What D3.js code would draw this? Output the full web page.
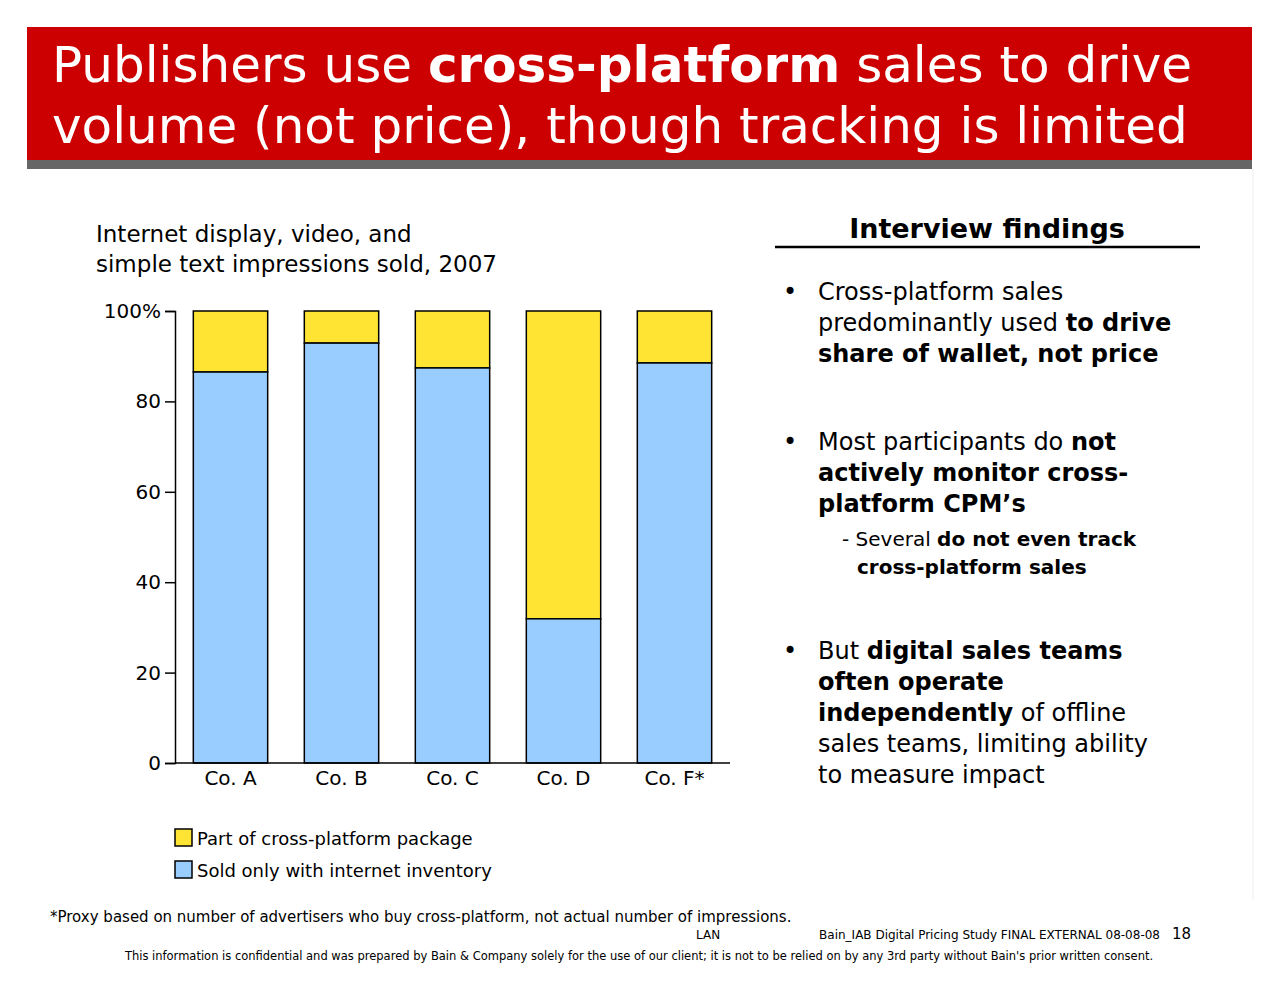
<!DOCTYPE html>
<html><head><meta charset="utf-8">
<script src="https://cdn.jsdelivr.net/npm/d3@7"></script>
<style>body{margin:0;background:#fff;font-family:"DejaVu Sans",Verdana,sans-serif}</style>
</head><body><div id="chart"></div>
<script>
// chart data
let companies = ["Co. A", "Co. B", "Co. C", "Co. D", "Co. F*"];
let internetOnly = [86.5, 92.9, 87.4, 31.9, 88.5];
let crossPlatform = internetOnly.map(v => 100 - v);
let yTicks = [0, 20, 40, 60, 80, 100];

let svg = d3.select("#chart").append("svg").attr("width", 1280).attr("height", 990);

// header
svg.append("rect").attr("x", 27).attr("y", 27).attr("width", 1225).attr("height", 134).attr("fill", "#cc0000");
svg.append("rect").attr("x", 27).attr("y", 160).attr("width", 1225).attr("height", 9).attr("fill", "#666");
let h1 = svg.append("text").attr("x", 52).attr("y", 82).attr("fill", "#fff").style("font-size", "50px");
h1.append("tspan").text("Publishers use ");
h1.append("tspan").attr("font-weight", "bold").text("cross-platform");
h1.append("tspan").text(" sales to drive");
svg.append("text").attr("x", 52).attr("y", 143).attr("fill", "#fff").style("font-size", "50px")
    .text("volume (not price), though tracking is limited");
svg.append("line").attr("x1", 1253).attr("x2", 1253).attr("y1", 169).attr("y2", 900).attr("stroke", "#eee");

// chart title
svg.append("text").attr("x", 96).attr("y", 242).style("font-size", "23px").text("Internet display, video, and");
svg.append("text").attr("x", 96).attr("y", 272).style("font-size", "23px").text("simple text impressions sold, 2007");

let x = d3.scaleBand().domain(companies).range([175, 730]).paddingInner(0.33).paddingOuter(0.165);
let y = d3.scaleLinear().domain([0, 100]).range([763, 311]);

let g = svg.append("g");
companies.forEach((c, i) => {
    g.append("rect").attr("x", x(c)).attr("width", x.bandwidth())
        .attr("y", y(100)).attr("height", y(internetOnly[i]) - y(100))
        .attr("fill", "#ffe433").attr("stroke", "#000").attr("stroke-width", 1.5);
    g.append("rect").attr("x", x(c)).attr("width", x.bandwidth())
        .attr("y", y(internetOnly[i])).attr("height", y(0) - y(internetOnly[i]))
        .attr("fill", "#99ccff").attr("stroke", "#000").attr("stroke-width", 1.5);
});

let yAxis = svg.append("g").attr("transform", "translate(175,0)")
    .call(d3.axisLeft(y).tickValues(yTicks).tickSize(10).tickPadding(4).tickFormat(d => d === 100 ? "100%" : d));
let xAxis = svg.append("g").attr("transform", "translate(0,763)")
    .call(d3.axisBottom(x).tickSize(0).tickPadding(8));
[yAxis, xAxis].forEach(a => {
    a.selectAll("text").style("font-size", "20px").style("font-family", "DejaVu Sans").attr("fill", "#000");
    a.selectAll("line,path").attr("stroke", "#000").attr("stroke-width", 1.5);
});
xAxis.select(".domain").attr("d", "M175,0H730");

// legend
let legend = [["Part of cross-platform package", "#ffe433"], ["Sold only with internet inventory", "#99ccff"]];
legend.forEach((l, i) => {
    svg.append("rect").attr("x", 175).attr("y", 829 + i * 32).attr("width", 17).attr("height", 17)
        .attr("fill", l[1]).attr("stroke", "#000").attr("stroke-width", 1.5);
    svg.append("text").attr("x", 197).attr("y", 845 + i * 32).style("font-size", "18px").text(l[0]);
});

// findings panel
svg.append("text").attr("x", 987).attr("y", 238).attr("text-anchor", "middle")
    .attr("font-weight", "bold").style("font-size", "27px").text("Interview findings");
svg.append("line").attr("x1", 775).attr("x2", 1200).attr("y1", 247).attr("y2", 247).attr("stroke", "#000").attr("stroke-width", 2.5);

let bullets = [
    [300, [[["Cross-platform sales", 0]], [["predominantly used ", 0], ["to drive", 1]], [["share of wallet, not price", 1]]]],
    [450, [[["Most participants do ", 0], ["not", 1]], [["actively monitor cross-", 1]], [["platform CPM\u2019s", 1]]]],
    [659, [[["But ", 0], ["digital sales teams", 1]], [["often operate", 1]], [["independently", 1], [" of offline", 0]], [["sales teams, limiting ability", 0]], [["to measure impact", 0]]]]
];
bullets.forEach(b => {
    svg.append("text").attr("x", 783).attr("y", b[0]).style("font-size", "24px").text("\u2022");
    b[1].forEach((line, j) => {
        let t = svg.append("text").attr("x", 818).attr("y", b[0] + j * 31).style("font-size", "24px");
        line.forEach(s => t.append("tspan").attr("font-weight", s[1] ? "bold" : "normal").text(s[0]));
    });
});
let sub = svg.append("text").attr("x", 842).attr("y", 546).style("font-size", "20px");
sub.append("tspan").text("- Several ");
sub.append("tspan").attr("font-weight", "bold").text("do not even track");
svg.append("text").attr("x", 857).attr("y", 574).attr("font-weight", "bold").style("font-size", "20px").text("cross-platform sales");

// footer
svg.append("text").attr("x", 50).attr("y", 922).style("font-size", "15px")
    .text("*Proxy based on number of advertisers who buy cross-platform, not actual number of impressions.");
svg.append("text").attr("x", 696).attr("y", 939).style("font-size", "12px").text("LAN");
svg.append("text").attr("x", 1160).attr("y", 939).attr("text-anchor", "end").style("font-size", "12px")
    .text("Bain_IAB Digital Pricing Study FINAL EXTERNAL 08-08-08");
svg.append("text").attr("x", 1172).attr("y", 939).style("font-size", "15px").text("18");
svg.append("text").attr("x", 639).attr("y", 960).attr("text-anchor", "middle").style("font-size", "11.5px")
    .text("This information is confidential and was prepared by Bain & Company solely for the use of our client; it is not to be relied on by any 3rd party without Bain's prior written consent.");
</script></body></html>
